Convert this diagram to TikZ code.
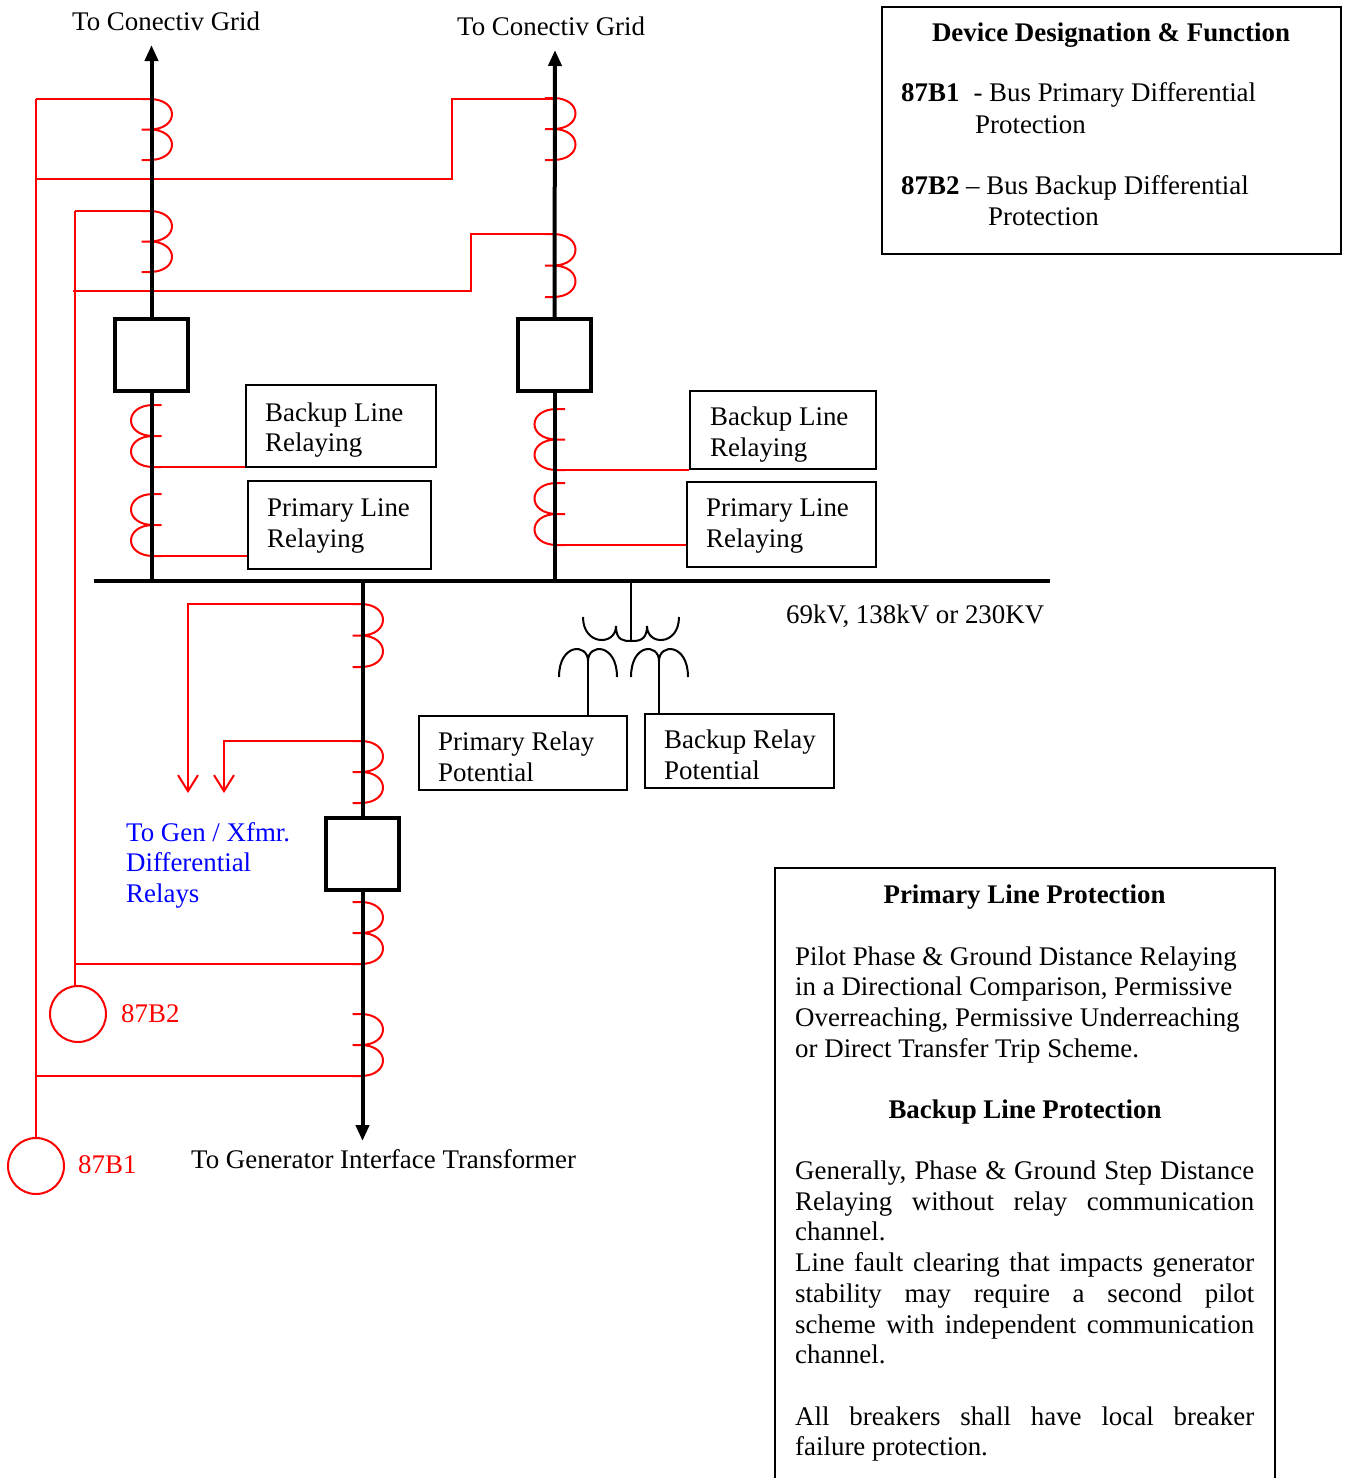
\documentclass[tikz,border=0pt]{standalone}
\usepackage{fontspec}
\setmainfont{Liberation Serif}
\usetikzlibrary{arrows.meta}
\newcommand\fsz{\fontsize{26.9}{30.5}\selectfont}
\newcommand\ctR[3]{\draw[rd] (#1-10,#2) -- (#1-2,#2) .. controls (#1+28,#2) and (#1+28,#2+#3) .. (#1-2,#2+#3) -- (#1-10,#2+#3) (#1-2,#2+#3) .. controls (#1+28,#2+#3) and (#1+28,#2+2*#3) .. (#1-2,#2+2*#3) -- (#1-10,#2+2*#3);}
\newcommand\ctL[3]{\draw[rd] (#1+10,#2) -- (#1+2,#2) .. controls (#1-28,#2) and (#1-28,#2+#3) .. (#1+2,#2+#3) -- (#1+10,#2+#3) (#1+2,#2+#3) .. controls (#1-28,#2+#3) and (#1-28,#2+2*#3) .. (#1+2,#2+2*#3) -- (#1+10,#2+2*#3);}
\definecolor{rred}{RGB}{255,0,0}
\definecolor{bblue}{RGB}{0,0,255}
\begin{document}
\begin{tikzpicture}[x=1pt,y=-1pt,
 bk/.style={line width=4pt,black},
 rd/.style={line width=2pt,rred},
 thinb/.style={line width=2pt,black},
 brk/.style={draw,line width=4.5pt,minimum width=73pt,minimum height=72pt,inner sep=0pt},
 rbox/.style={draw,line width=2pt,inner sep=0pt},
 txt/.style={inner sep=0pt,anchor=base west,font=\fsz},
 ctit/.style={inner sep=0pt,anchor=base,font=\fsz\bfseries},
 rarrow/.style={rd,-{Straight Barb[length=16pt,width=20pt]}},
 barrow/.style={bk,-{Triangle[length=16pt,width=13pt]}}]
\useasboundingbox (0,0) rectangle (1346,1478);

% ---------- named points ----------
\coordinate (busL) at (94,581);
\coordinate (busR) at (1050,581);
\coordinate (g1) at (151.5,45);
\coordinate (g2) at (555,50);
\coordinate (g3) at (362.5,1141);

% ---------- breakers ----------
\node[brk] (bk1) at (151.5,355) {};
\node[brk] (bk2) at (554.5,355) {};
\node[brk] (bk3) at (362.5,854) {};

% ---------- relay boxes ----------
\node[rbox,minimum width=190pt,minimum height=82pt] (blL) at (341,426) {};
\node[rbox,minimum width=183pt,minimum height=88pt] (plL) at (339.5,525) {};
\node[rbox,minimum width=186pt,minimum height=78pt] (blR) at (783,430) {};
\node[rbox,minimum width=189pt,minimum height=85pt] (plR) at (781.5,524.5) {};
\node[rbox,minimum width=208pt,minimum height=74pt] (prp) at (523,753) {};
\node[rbox,minimum width=189pt,minimum height=74pt] (brp) at (739.5,751) {};
\node[rbox,minimum width=459pt,minimum height=247pt] (dev) at (1111.5,130.5) {};

% ---------- relays 87B ----------
\node[draw=rred,line width=2pt,circle,minimum size=56pt,inner sep=0pt] (r2) at (78,1014) {};
\node[draw=rred,line width=2pt,circle,minimum size=56pt,inner sep=0pt] (r1) at (36,1166) {};

% ---------- current transformers ----------
\ctR{151.5}{99}{30.5}
\ctR{151.5}{211}{30.5}
\ctR{555}{98}{31}
\ctR{555}{234}{31.5}
\ctL{151.5}{405}{31}
\ctL{151.5}{494}{31}
\ctL{555}{409}{30.5}
\ctL{555}{483}{31}
\ctR{362.5}{604}{31.5}
\ctR{362.5}{741}{31}
\ctR{362.5}{902}{31}
\ctR{362.5}{1014}{31}

% ---------- red wiring ----------
\coordinate (w1) at (36,99);
\coordinate (w2) at (75,211);
\draw[rd] (w1) -- (151.5,99);
\draw[rd] (w1) -- (r1.north);
\draw[rd] (36,179) -- (452,179) -- (452,99) -- (555,99);
\draw[rd] (w2) -- (151.5,211);
\draw[rd] (w2) -- (w2 |- r2.north);
\draw[rd] (73,291) -- (471,291) -- (471,234) -- (555,234);
\coordinate (c3L) at (151.5,467);
\coordinate (c4L) at (151.5,556);
\coordinate (c3R) at (555,470);
\coordinate (c4R) at (555,545);
\draw[rd] (c3L) -- (c3L -| blL.west);
\draw[rd] (c4L) -- (c4L -| plL.west);
\draw[rd] (c3R) -- (c3R -| blR.west);
\draw[rd] (c4R) -- (c4R -| plR.west);
\coordinate (a1) at (188,793);
\coordinate (a2) at (224,793);
\draw[rarrow] (362.5,604) -- (188,604) -- (a1);
\draw[rarrow] (362.5,741) -- (224,741) -- (a2);
\draw[rd] (75,964) -- (362.5,964);
\draw[rd] (36,1076) -- (362.5,1076);

% ---------- black power lines ----------
\draw[bk] (busL) -- (busR);
\draw[barrow] (bk1.north) -- (g1);
\draw[bk] (bk1.south) -- (bk1.south |- busL);
\draw[barrow] (bk2.north) -- (g2);
\draw[bk] (bk2.south) -- (bk2.south |- busL);
\draw[bk] (bk3.north |- busL) -- (bk3.north);
\draw[barrow] (bk3.south) -- (g3);

% ---------- potential transformer ----------
\coordinate (pt) at (631,641);
\coordinate (s1) at (588,661);
\coordinate (s2) at (659,661);
\draw[thinb] (pt |- busL) -- (pt);
\draw[thinb] (583,617) .. controls (583,646) and (616,646) .. (616,626)
  .. controls (616,641) and (624,641) .. (pt)
  .. controls (638,641) and (647,641) .. (647,626)
  .. controls (647,646) and (679,646) .. (679,617);
\draw[thinb] (559,677) .. controls (559,643) and (588,643) .. (s1)
  .. controls (588,643) and (617,643) .. (617,677);
\draw[thinb] (631,677) .. controls (631,643) and (659,643) .. (s2)
  .. controls (659,643) and (688,643) .. (688,677);
\draw[thinb] (s1) -- (s1 |- prp.north);
\draw[thinb] (s2) -- (s2 |- brp.north);

% ---------- texts ----------
\node[txt] (t1) at (72,30) {To Conectiv Grid};
\node[txt] (t2) at (457,35) {To Conectiv Grid};
\node[txt] (t3) at (786,623) {69kV, 138kV or 230KV};
\node[txt] (t4) at (191,1168) {To Generator Interface Transformer};
\node[txt,text=bblue] (t5a) at (126,841) {To Gen / Xfmr.};
\node[txt,text=bblue] (t5b) at (126,871) {Differential};
\node[txt,text=bblue] (t5c) at (126,902) {Relays};
\node[txt,text=rred] (l2) at (121,1022) {87B2};
\node[txt,text=rred] (l1) at (78,1173) {87B1};

\node[txt] (x1a) at (265,421) {Backup Line};
\node[txt] (x1b) at (265,451.5) {Relaying};
\node[txt] (x2a) at (267,516) {Primary Line};
\node[txt] (x2b) at (267,547) {Relaying};
\node[txt] (x3a) at (710,425) {Backup Line};
\node[txt] (x3b) at (710,456) {Relaying};
\node[txt] (x4a) at (706,516) {Primary Line};
\node[txt] (x4b) at (706,547) {Relaying};
\node[txt] (x5a) at (438,750) {Primary Relay};
\node[txt] (x5b) at (438,781) {Potential};
\node[txt] (x6a) at (664,748) {Backup Relay};
\node[txt] (x6b) at (664,779) {Potential};

% device box
\node[ctit] (d0) at (1111,41) {Device Designation \& Function};
\node[txt] (d1) at (901,101) {\textbf{87B1}\hspace{14pt}- Bus Primary Differential};
\node[txt] (d1b) at (975,133) {Protection};
\node[txt] (d2) at (901,194) {\textbf{87B2} – Bus Backup Differential};
\node[txt] (d2b) at (988,225) {Protection};

% protection box
\draw[line width=2pt] (775,1490) -- (775,868) -- (1275,868) -- (1275,1490);
\node[ctit] (p0) at (1024.5,903) {Primary Line Protection};
\node[txt] (p1) at (795,965) {Pilot Phase \& Ground Distance Relaying};
\node[txt] (p2) at (795,995) {in a Directional Comparison, Permissive};
\node[txt] (p3) at (795,1026) {Overreaching, Permissive Underreaching};
\node[txt] (p4) at (795,1057) {or Direct Transfer Trip Scheme.};
\node[ctit] (q0) at (1025,1118) {Backup Line Protection};
\node[txt] (q1) at (795,1179) {\makebox[459pt][s]{Generally, Phase \& Ground Step Distance}};
\node[txt] (q2) at (795,1210) {\makebox[459pt][s]{Relaying without relay communication}};
\node[txt] (q3) at (795,1240) {channel.};
\node[txt] (q4) at (795,1271) {\makebox[459pt][s]{Line fault clearing that impacts generator}};
\node[txt] (q5) at (795,1302) {\makebox[459pt][s]{stability may require a second pilot}};
\node[txt] (q6) at (795,1333) {\makebox[459pt][s]{scheme with independent communication}};
\node[txt] (q7) at (795,1363) {channel.};
\node[txt] (q8) at (795,1425) {\makebox[459pt][s]{All breakers shall have local breaker}};
\node[txt] (q9) at (795,1455) {failure protection.};
\end{tikzpicture}
\end{document}
